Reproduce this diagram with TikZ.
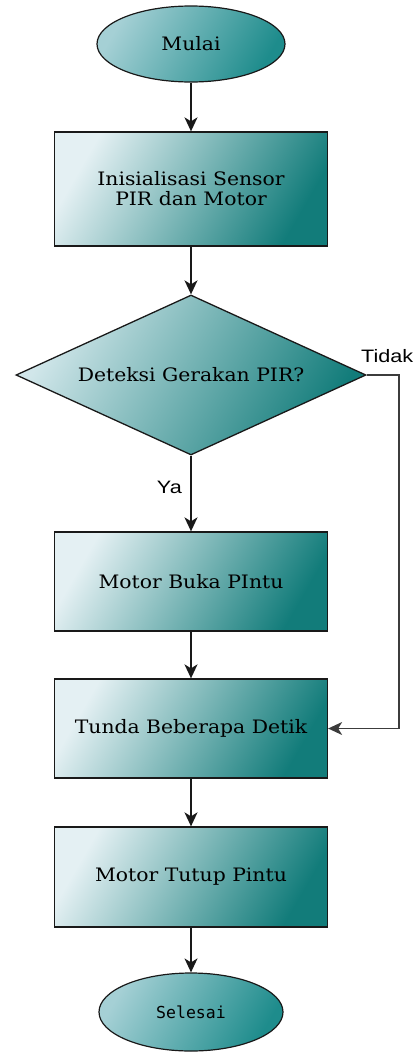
\documentclass[tikz,border=0pt]{standalone}
\usepackage{fontspec}
\usetikzlibrary{shapes.geometric, arrows.meta}
\newfontfamily\kotakfont[FakeStretch=1.1]{DejaVu Serif}
\newfontfamily\labelfont[FakeStretch=1.2]{Liberation Sans}
\newfontfamily\akhirfont{DejaVu Sans Mono}
\definecolor{garis}{RGB}{25,25,25}
\definecolor{tealmuda}{RGB}{228,240,243}
\definecolor{tealtua}{RGB}{18,124,122}
\definecolor{ujungmuda}{RGB}{165,208,213}
\definecolor{ujungtua}{RGB}{30,140,140}
\tikzstyle{terminal} = [ellipse, draw=garis, line width=1.2pt, top color=ujungmuda, bottom color=ujungtua, shading angle=60, inner sep=0pt, minimum width=188pt, minimum height=76pt]
\tikzstyle{proses} = [rectangle, draw=garis, line width=1.3pt, top color=tealmuda, bottom color=tealtua, shading angle=60, align=center, minimum width=273pt, font=\kotakfont\fontsize{18.5}{20}\selectfont]
\tikzstyle{keputusan} = [diamond, draw=garis, line width=1.3pt, top color=tealmuda!70!ujungmuda, bottom color=tealtua, shading angle=60, aspect=2.2, inner sep=0pt, minimum width=350pt, minimum height=160pt, font=\kotakfont\fontsize{18.5}{20}\selectfont]
\tikzstyle{arrow} = [line width=1.5pt, draw=garis, -{Stealth[length=14pt,width=13pt,inset=4pt]}]
\tikzstyle{cabang} = [line width=1.3pt, draw=garis!85, -{Stealth[length=14pt,width=13pt,inset=4pt]}]
\tikzstyle{ket} = [inner sep=0pt, font=\labelfont\fontsize{18}{21}\selectfont]

\begin{document}
\begin{tikzpicture}[x=1pt,y=-1pt]
	\useasboundingbox (0,0) rectangle (416,1052);
	\node[terminal, font=\kotakfont\fontsize{18.5}{20}\selectfont] (mulai) at (191,44) {Mulai};
	\node[proses, minimum height=114pt] (init) at (191,189) {Inisialisasi Sensor\\ PIR dan Motor};
	\node[keputusan] (deteksi) at (191,375) {Deteksi Gerakan PIR?};
	\node[proses, minimum height=99pt] (buka) at (191,581.5) {Motor Buka PIntu};
	\node[proses, minimum height=99pt] (tunda) at (191,728.5) {Tunda Beberapa Detik};
	\node[proses, minimum height=100pt] (tutup) at (191,877) {Motor Tutup Pintu};
	\node[terminal, minimum width=184pt, minimum height=78pt, font=\akhirfont\fontsize{16.5}{18}\selectfont] (selesai) at (191,1012) {Selesai};
	\coordinate (belok) at (399,375);
	\draw[arrow] (mulai.south) -- (init.north);
	\draw[arrow] (init.south) -- (deteksi.north);
	\draw[arrow] (deteksi.south) -- (buka.north);
	\draw[arrow] (buka.south) -- (tunda.north);
	\draw[arrow] (tunda.south) -- (tutup.north);
	\draw[arrow] (tutup.south) -- (selesai.north);
	\draw[cabang] (deteksi.east) -- (belok) |- (tunda.east);
	\node[ket, anchor=base east] (ya) at (182,493) {Ya};
	\node[ket, anchor=base west] (tidak) at (361,362) {Tidak};
\end{tikzpicture}
\end{document}
